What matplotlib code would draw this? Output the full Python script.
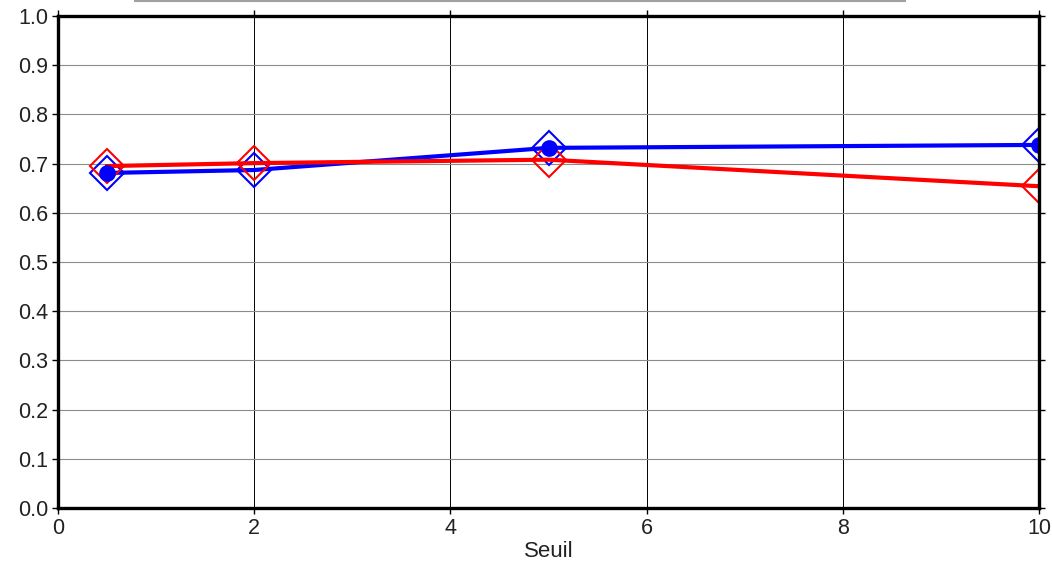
import numpy as np
import matplotlib.pyplot as plt
from matplotlib.lines import Line2D

plt.rcParams['font.family'] = ['Liberation Sans', 'DejaVu Sans']

# Seuil values and the two series
seuil = [0.5, 2, 5, 10]
blue_vals = [0.681, 0.687, 0.732, 0.738]
red_vals = [0.695, 0.701, 0.708, 0.654]
# points where the blue series carries a filled dot
dot_x = [0.5, 5, 10]
dot_vals = [0.681, 0.732, 0.738]

fig = plt.figure(figsize=(10.52, 5.64), dpi=100)
ax = fig.add_axes([0.0551, 0.0993, 0.9326, 0.8723])

# grid: vertical lines dark, horizontal lines grey
for xv in [2, 4, 6, 8]:
    ax.axvline(xv, color='black', lw=0.7, zorder=1)
for yv in np.arange(0.1, 1.0, 0.1):
    ax.axhline(yv, color='#8c8c8c', lw=0.8, zorder=1)

ax.plot(seuil, blue_vals, color='blue', lw=3, marker='D', ms=17,
        mfc='none', mec='blue', mew=1.5, zorder=3)
ax.plot(seuil, red_vals, color='red', lw=3, marker='D', ms=17,
        mfc='none', mec='red', mew=1.5, zorder=4)
ax.plot(dot_x, dot_vals, ls='none', marker='o', ms=11, color='blue', zorder=5)

ax.set_xlim(0, 10)
ax.set_ylim(0, 1)
ax.set_xticks([0, 2, 4, 6, 8, 10])
ax.set_yticks(np.round(np.arange(0, 1.01, 0.1), 1))
ax.set_yticklabels([f'{v:.1f}' for v in np.arange(0, 1.01, 0.1)])
ax.tick_params(direction='out', length=4, width=1, labelsize=15.5,
               labelcolor='#222222', top=True, right=True, pad=3)
ax.set_xlabel('Seuil', fontsize=16, color='#222222', labelpad=2)
for s in ax.spines.values():
    s.set_linewidth(2.4)
    s.set_zorder(6)

# grey rule at the top edge of the figure
fig.add_artist(Line2D([135 / 1052, 905 / 1052], [0.999, 0.999],
                      transform=fig.transFigure, color='#a0a0a0', lw=1.5))

fig.savefig('out.png', dpi=100)
